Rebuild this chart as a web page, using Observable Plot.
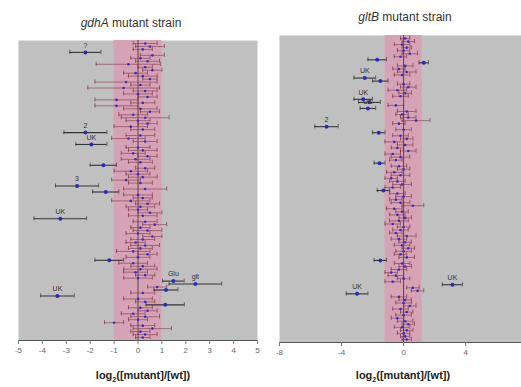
<!DOCTYPE html>
<html><head><meta charset="utf-8">
<script src="https://cdn.jsdelivr.net/npm/d3@7"></script>
<script src="https://cdn.jsdelivr.net/npm/@observablehq/plot@0.6"></script>
<style>
body{margin:0;background:#fff;width:521px;height:387px;overflow:hidden;position:relative;font-family:"Liberation Sans",Arial,sans-serif}
.t{position:absolute;font-size:12px;color:#333;white-space:nowrap;transform:translateX(-50%)}
.xl{position:absolute;font-size:11px;font-weight:bold;color:#222;white-space:nowrap;transform:translateX(-50%)}
.xl sub{font-size:7px}
#L{position:absolute;left:0;top:0}
#R{position:absolute;left:262px;top:0}
</style></head><body>
<div class="t" style="left:131px;top:16px"><i>gdhA</i> mutant strain</div>
<div class="t" style="left:405px;top:10px"><i>gltB</i> mutant strain</div>
<div id="L"></div><div id="R"></div>
<div class="xl" style="left:143px;top:369px">log<sub>2</sub>([mutant]/[wt])</div>
<div class="xl" style="left:403px;top:369px">log<sub>2</sub>([mutant]/[wt])</div>
<script>
// gdhA panel: log2 ratio and error half-width per gene (top to bottom)
const gdhAValues = [0.3,0.5,0.2,-2.2,0.6,0.1,0.4,-0.4,0.3,0.6,-0.1,0.2,0.5,-0.5,0.1,-0.6,0.3,0.0,0.4,-0.9,0.2,-0.9,0.1,0.5,-0.2,0.3,0.0,0.4,-0.3,0.2,-2.2,0.1,-0.4,0.3,-1.95,0.0,0.2,-0.2,0.4,-0.1,0.1,-1.45,0.3,-0.3,0.0,0.2,-0.5,0.1,-2.55,0.3,-1.35,0.0,0.2,-0.3,0.4,0.1,0.0,0.5,0.2,-3.25,0.3,0.7,0.1,0.4,0.0,0.6,0.2,-0.1,0.3,0.1,-0.2,0.4,0.0,-1.2,-0.2,0.2,0.1,-0.1,0.3,0.0,1.48,2.4,0.8,1.17,0.2,-3.37,0.0,0.3,1.14,0.1,0.4,-0.2,0.3,0.0,-1.0,0.2,0.6,0.1,0.3,0.2];
const gdhAErrors = [0.5,0.6,0.4,0.65,0.5,0.4,0.5,1.35,0.3,0.4,0.5,0.6,0.3,1.3,0.4,1.5,0.5,0.6,0.4,0.9,0.5,0.9,0.7,0.4,0.6,1.0,0.5,0.4,0.7,0.5,0.9,0.6,0.7,0.5,0.65,0.5,0.6,0.5,0.4,0.6,0.5,0.55,0.4,0.7,0.5,0.6,0.6,0.5,0.9,0.9,0.55,0.6,0.4,0.8,0.5,0.6,0.4,0.5,0.6,1.1,0.5,0.5,0.4,0.6,0.5,0.4,0.5,0.4,0.6,0.5,0.7,0.4,0.5,0.6,0.6,0.5,0.7,0.5,0.4,0.6,0.45,1.1,0.4,0.5,0.5,0.7,0.6,0.4,0.8,0.5,0.4,0.5,0.6,0.4,0.4,0.5,0.8,0.4,0.5,0.3];
const gdhALabelIdx = [3,30,34,48,59,80,81,85];
const gdhALabels = ["?","2","UK","3","UK","Glu","glt","UK"];
const gdhATicks = [-5,-4,-3,-2,-1,0,1,2,3,4,5];

// gltB panel
const gltBValues = [0.1,0.3,-0.1,0.2,0.0,0.4,-0.2,-1.7,1.3,0.1,-0.3,0.2,-0.1,-2.5,-1.5,0.0,0.3,-0.4,0.1,-0.2,-2.6,-2.2,-0.5,-2.3,0.2,-0.1,0.3,0.8,-0.3,-4.97,0.0,-1.6,-0.2,0.2,-0.6,0.1,-0.4,0.3,-0.7,-0.2,-0.5,-1.55,-0.3,0.0,-0.6,-0.2,-0.8,-0.4,-0.1,-0.7,-1.3,-0.4,0.0,-0.5,-0.2,0.6,-0.6,-0.1,-0.4,0.1,-0.3,-0.7,0.0,-0.2,-0.5,0.2,-0.3,0.1,-0.1,0.3,0.0,-0.2,0.2,-1.5,-0.1,0.1,-0.3,-0.8,-0.5,0.0,-0.7,3.15,0.6,0.9,-3.0,-0.3,0.1,0.0,0.4,-0.2,0.2,0.0,-0.4,0.1,0.3,-0.1,0.2,0.0,0.1,0.2];
const gltBErrors = [0.3,0.4,0.5,0.3,0.4,0.5,0.4,0.6,0.3,0.5,0.4,0.6,0.5,0.7,0.5,0.4,0.5,0.6,0.4,0.5,0.6,0.7,0.5,0.5,0.6,0.4,0.5,0.9,0.4,0.75,0.5,0.4,0.5,0.4,0.6,0.5,0.4,0.5,0.5,0.6,0.4,0.35,0.5,0.4,0.5,0.6,0.4,0.5,0.6,0.5,0.4,0.5,0.5,0.4,0.6,0.7,0.5,0.4,0.5,0.4,0.6,0.5,0.4,0.5,0.4,0.6,0.5,0.4,0.5,0.4,0.5,0.4,0.5,0.4,0.5,0.4,0.5,0.4,0.5,0.4,0.5,0.65,0.4,0.4,0.7,0.5,0.4,0.5,0.4,0.5,0.4,0.5,0.4,0.5,0.4,0.5,0.4,0.4,0.3,0.3];
const gltBLabelIdx = [13,20,23,29,81,84];
const gltBLabels = ["UK","UK","UK","2","UK","UK"];
const gltBTicks = [-8,-4,0,4];

function panel(vals, errs, lblIdx, lbls, opts) {
  const data = vals.map((v, i) => ({i, v, lo: v - errs[i], hi: v + errs[i]}));
  const labs = lblIdx.map((k, j) => ({i: k, v: vals[k], t: lbls[j]}));
  const out = d => Math.abs(d.v) > opts.cut;
  const inner = data.filter(d => !out(d)), outer = data.filter(out);
  const cap = (arr, key, col) => Plot.ruleX(arr, {x: key, y1: d => d.i - 0.7, y2: d => d.i + 0.7, stroke: col, strokeWidth: 0.7});
  return Plot.plot({
    width: opts.width, height: opts.height,
    marginLeft: opts.ml, marginRight: opts.mr, marginTop: opts.mt, marginBottom: opts.mb,
    style: {background: "transparent", fontFamily: "Liberation Sans, Arial, sans-serif"},
    x: {domain: opts.domain, ticks: opts.ticks, tickFormat: d => String(d)},
    y: {domain: [-1, 100], reverse: true, axis: null},
    marks: [
      Plot.frame({fill: "#c0c0c0", stroke: null}),
      Plot.rectX([0], {x1: -opts.band, x2: opts.band, y1: -1, y2: 100, fill: "#d6a3b6"}),
      Plot.ruleX([0], {stroke: "#3a2a30", strokeWidth: 0.8}),
      Plot.ruleY(inner, {y: "i", x1: "lo", x2: "hi", stroke: "#7d3040", strokeWidth: 0.7, strokeOpacity: 0.8}),
      cap(inner, "lo", "#7d3040"), cap(inner, "hi", "#7d3040"),
      Plot.ruleY(outer, {y: "i", x1: "lo", x2: "hi", stroke: "#333", strokeWidth: 1.1}),
      cap(outer, "lo", "#333"), cap(outer, "hi", "#333"),
      Plot.dot(inner, {x: "v", y: "i", r: 1.3, fill: "#3a2ec0", stroke: null}),
      Plot.dot(outer, {x: "v", y: "i", r: 2, fill: "#2a2ab8", stroke: null}),
      Plot.text(labs, {x: "v", y: "i", text: "t", dy: -7, fontSize: 7, fill: "#333"}),
      Plot.ruleY([100], {stroke: "#555", strokeWidth: 1}),
      Plot.axisX({ticks: opts.ticks, tickSize: 4, tickPadding: 3, fontSize: 8, color: "#666", stroke: "#777", tickFormat: d => String(d)})
    ]
  });
}

document.getElementById("L").appendChild(panel(gdhAValues, gdhAErrors, gdhALabelIdx, gdhALabels,
  {width: 262, height: 362, ml: 18, mr: 5, mt: 40, mb: 22, domain: [-5, 5], ticks: gdhATicks, band: 1, cut: 1.1}));
document.getElementById("R").appendChild(panel(gltBValues, gltBErrors, gltBLabelIdx, gltBLabels,
  {width: 259, height: 364, ml: 17, mr: 0, mt: 35, mb: 22, domain: [-8, 7.6], ticks: gltBTicks, band: 1.2, cut: 1.25}));
</script>
</body></html>
